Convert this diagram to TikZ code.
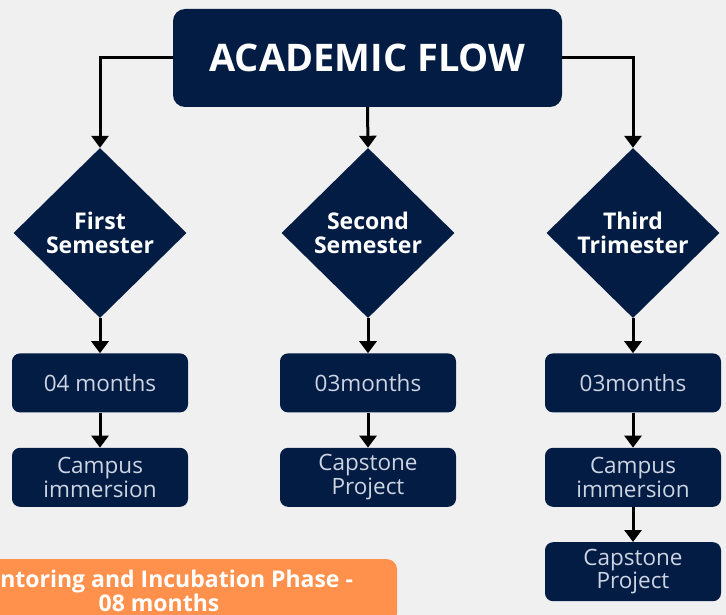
\documentclass[tikz,border=0pt]{standalone}
\usepackage{fontspec}
\setmainfont{Open Sans}
\usetikzlibrary{shapes.geometric, arrows.meta, positioning}
\definecolor{flownavy}{RGB}{3, 28, 68}
\definecolor{flowbg}{RGB}{240, 240, 240}
\definecolor{flowtext}{RGB}{205, 212, 226}
\definecolor{phaseorange}{RGB}{255, 145, 77}

\begin{document}
\begin{tikzpicture}[
  x=1pt, y=-1pt,
  node distance=35pt,
  head/.style={rectangle, rounded corners=12pt, fill=flownavy, text=white,
               minimum width=389pt, minimum height=98pt,
               font=\fontsize{38}{42}\selectfont\bfseries},
  term/.style={diamond, fill=flownavy, text=white, inner sep=0pt,
               minimum width=173pt, minimum height=170pt, align=center,
               font=\fontsize{23}{24}\selectfont\bfseries},
  period/.style={rectangle, rounded corners=8pt, fill=flownavy, text=flowtext,
                 minimum width=176pt, minimum height=59pt, inner sep=0pt,
                 align=center, font=\fontsize{22.5}{23.5}\selectfont},
  phase/.style={rectangle, rounded corners=10pt, fill=phaseorange, text=white,
                minimum width=476pt, minimum height=64pt, align=center,
                font=\fontsize{23}{24}\selectfont\bfseries},
  arr/.style={-{Triangle[width=17pt, length=12pt]}, line width=3pt, black}
]
  \useasboundingbox (0,0) rectangle (726,615);
  \clip (0,0) rectangle (726,615);
  \fill[flowbg] (0,0) rectangle (726,615);

  \node[head] (flow) at (367.5,58) {ACADEMIC FLOW};
  \node[term] (sem1) at (100,233) {First\\Semester};
  \node[term] (sem2) at (368,233) {Second\\Semester};
  \node[term] (tri3) at (633,233) {Third\\Trimester};

  \node[period, below=of sem1] (len1) {04 months};
  \node[period, below=of len1] (camp1) {Campus\\immersion};
  \node[period, below=of sem2] (len2) {03months};
  \node[period, below=of len2] (cap2) {Capstone\\Project};
  \node[period, below=of tri3] (len3) {03months};
  \node[period, below=of len3] (camp3) {Campus\\immersion};
  \node[period, below=of camp3] (cap3) {Capstone\\Project};

  \node[phase, anchor=north] (incub) at (159,559)
    {Mentoring and Incubation Phase -\\08 months};

  \draw[arr] (flow.west) -| (sem1.north);
  \draw[arr] (flow.south) -- (sem2.north);
  \draw[arr] (flow.east) -| (tri3.north);
  \draw[arr] (sem1) -- (len1);
  \draw[arr] (len1) -- (camp1);
  \draw[arr] (sem2) -- (len2);
  \draw[arr] (len2) -- (cap2);
  \draw[arr] (tri3) -- (len3);
  \draw[arr] (len3) -- (camp3);
  \draw[arr] (camp3) -- (cap3);
\end{tikzpicture}
\end{document}
